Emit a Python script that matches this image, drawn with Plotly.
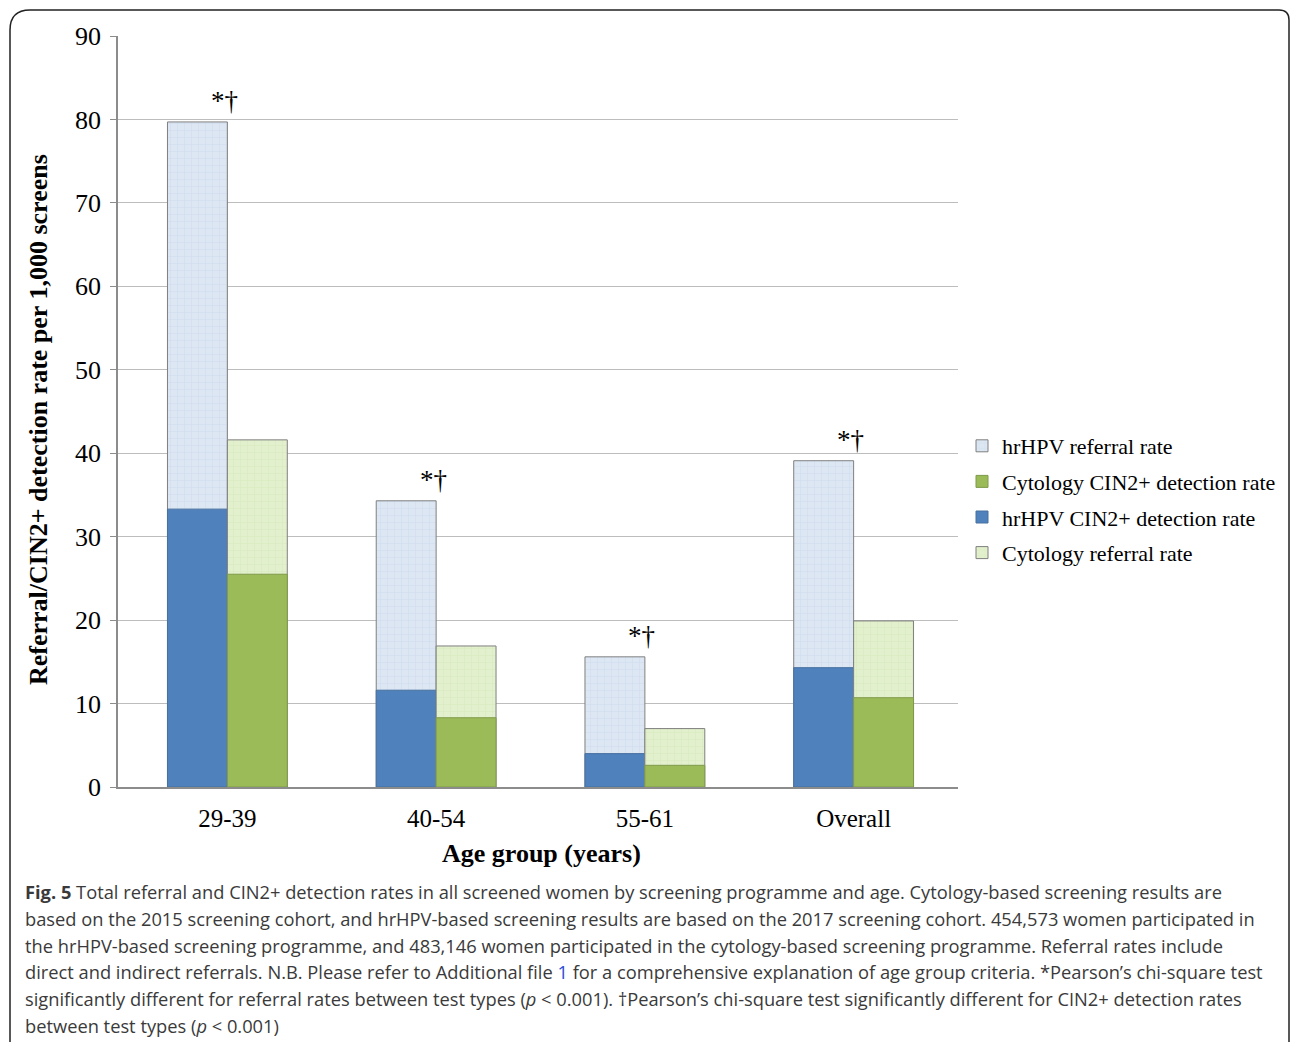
import plotly.graph_objects as go

categories = ["29-39", "40-54", "55-61", "Overall"]
hrhpv_referral = [79.7, 34.3, 15.6, 39.1]
hrhpv_detection = [33.3, 11.6, 4.0, 14.3]
cyto_referral = [41.6, 16.9, 7.0, 19.9]
cyto_detection = [25.5, 8.3, 2.6, 10.7]
sig_marks = ["*†", "*†", "*†", "*†"]
yticks = [0, 10, 20, 30, 40, 50, 60, 70, 80, 90]

caption_lines = [
    "<b>Fig. 5</b> Total referral and CIN2+ detection rates in all screened women by screening programme and age. Cytology-based screening results are",
    "based on the 2015 screening cohort, and hrHPV-based screening results are based on the 2017 screening cohort. 454,573 women participated in",
    "the hrHPV-based screening programme, and 483,146 women participated in the cytology-based screening programme. Referral rates include",
    'direct and indirect referrals. N.B. Please refer to Additional file <span style="color:#2a4fd6">1</span> for a comprehensive explanation of age group criteria. *Pearson’s chi-square test',
    "significantly different for referral rates between test types (<i>p</i> &lt; 0.001). †Pearson’s chi-square test significantly different for CIN2+ detection rates",
    "between test types (<i>p</i> &lt; 0.001)",
]

W, H = 1290, 1042
L, R, T, B = 118, 958, 36, 787
pw, ph = R - L, B - T

def px(x):
    return (x - L) / pw

def py(y):
    return (B - y) / ph

serif = "Liberation Serif, Times New Roman, serif"
BW = 0.287
edge = "#7f7f7f"

fig = go.Figure()
fig.add_trace(go.Bar(
    x=categories, y=hrhpv_referral, name="hrHPV referral rate",
    width=BW, offset=-BW, legendrank=1, legendgroup="a",
    marker=dict(color="#dde7f3", line=dict(color=edge, width=1),
                pattern=dict(shape="+", fillmode="overlay", fgcolor="#b9cbe3",
                             size=7, solidity=0.12)),
))
fig.add_trace(go.Bar(
    x=categories, y=hrhpv_detection, name="hrHPV CIN2+ detection rate",
    width=BW, offset=-BW, legendrank=3, legendgroup="c",
    marker=dict(color="#4f81bd", line=dict(color="#48709f", width=1)),
))
fig.add_trace(go.Bar(
    x=categories, y=cyto_referral, name="Cytology referral rate",
    width=BW, offset=0, legendrank=4, legendgroup="d",
    marker=dict(color="#e2f0cd", line=dict(color=edge, width=1),
                pattern=dict(shape="+", fillmode="overlay", fgcolor="#c6e0a4",
                             size=7, solidity=0.12)),
))
fig.add_trace(go.Bar(
    x=categories, y=cyto_detection, name="Cytology CIN2+ detection rate",
    width=BW, offset=0, legendrank=2, legendgroup="b",
    marker=dict(color="#9bbb59", line=dict(color="#7f9a4a", width=1)),
))

annotations = []
for c, v, m in zip(categories, hrhpv_referral, sig_marks):
    annotations.append(dict(x=c, y=v, text=m, showarrow=False, xshift=-3, yshift=21,
                            font=dict(family=serif, size=27, color="#000")))

# axis titles
annotations.append(dict(x=px(38), y=py(420), xref="paper", yref="paper",
                        text="<b>Referral/CIN2+ detection rate per 1,000 screens</b>",
                        textangle=-90, showarrow=False, xanchor="center", yanchor="middle",
                        font=dict(family=serif, size=26, color="#000")))
annotations.append(dict(x=px(541), y=py(853), xref="paper", yref="paper",
                        text="<b>Age group (years)</b>", showarrow=False,
                        xanchor="center", yanchor="middle",
                        font=dict(family=serif, size=26, color="#000")))

cap_y0 = 892
for i, line in enumerate(caption_lines):
    annotations.append(dict(
        x=px(23), y=py(cap_y0 + i * 26.6), xref="paper", yref="paper",
        xanchor="left", yanchor="middle", text=line, showarrow=False, align="left",
        font=dict(family="Open Sans, sans-serif", size=18.3, color="#3a3a3a"),
    ))

# rounded frame around the figure
lx, rx_, ty, by = px(10), px(1289), py(10), py(1060)
cx, cy = 20 / pw, 20 / ph
path = (f"M {lx},{by} L {lx},{ty - cy} Q {lx},{ty} {lx + cx},{ty} "
        f"L {rx_ - cx / 2},{ty} Q {rx_},{ty} {rx_},{ty - cy / 2} L {rx_},{by}")

fig.update_layout(
    width=W, height=H,
    margin=dict(l=L, r=W - R, t=T, b=H - B, autoexpand=False),
    paper_bgcolor="white", plot_bgcolor="white",
    barmode="overlay",
    showlegend=True,
    legend=dict(x=px(962), y=py(425), xanchor="left", yanchor="top",
                font=dict(family=serif, size=22, color="#000"),
                traceorder="grouped", tracegroupgap=4, bgcolor="rgba(0,0,0,0)"),
    annotations=annotations,
    shapes=[dict(type="path", xref="paper", yref="paper", path=path,
                 line=dict(color="#222", width=1.5))],
    font=dict(family=serif, color="#000"),
)
fig.update_xaxes(
    type="category", range=[-0.524, 3.5], showgrid=False,
    showline=True, linecolor="#8c8c8c", linewidth=1.5,
    ticks="", tickfont=dict(family=serif, size=25, color="#000"),
    ticklabelstandoff=8,
)
fig.update_yaxes(
    range=[0, 90], tickvals=yticks, showgrid=True, gridcolor="#bdbdbd", gridwidth=1,
    showline=True, linecolor="#8c8c8c", linewidth=1.5,
    ticks="outside", ticklen=6, tickcolor="#8c8c8c",
    tickfont=dict(family=serif, size=26, color="#000"),
    ticklabelstandoff=4,
    zeroline=False,
)

fig.write_html("out.html")
